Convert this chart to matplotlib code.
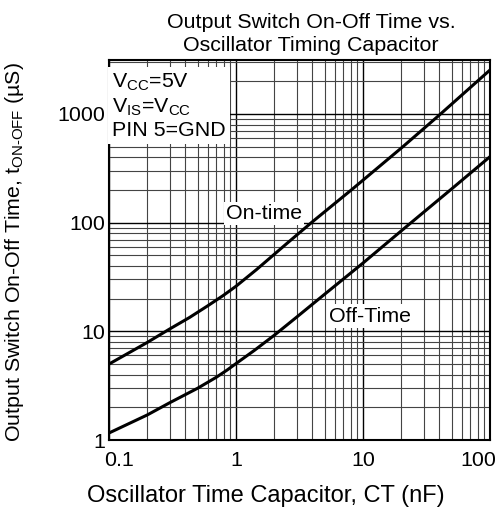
"""Output switch on/off time vs. oscillator timing capacitor (log-log)."""

import matplotlib

matplotlib.use("Agg")
import matplotlib.pyplot as plt
from matplotlib.ticker import FixedLocator, FixedFormatter, LogLocator, NullFormatter
from matplotlib.transforms import ScaledTranslation

plt.rcParams["font.family"] = ["Liberation Sans", "DejaVu Sans"]
plt.rcParams["mathtext.fontset"] = "custom"
plt.rcParams["mathtext.rm"] = "Liberation Sans"
plt.rcParams["mathtext.it"] = "Liberation Sans"

# capacitor CT (nF) vs. time (us)
ct_on = [0.1, 0.2, 0.3, 0.43, 0.6, 0.79, 1.0, 1.45, 2.5, 4.0, 8.3, 20.6, 40.0, 100.0]
t_on = [5.0, 7.9, 10.5, 13.4, 17.2, 21.3, 26.0, 37.0, 64.0, 102.0, 205.0, 500.0, 980.0, 2540.0]

ct_off = [0.1, 0.2, 0.3, 0.5, 0.7, 0.85, 1.0, 1.4, 2.0, 3.0, 5.0, 10.0, 20.0, 50.0, 100.0]
t_off = [1.16, 1.7, 2.2, 3.0, 3.78, 4.4, 5.05, 6.7, 9.2, 13.5, 22.0, 42.5, 84.0, 205.0, 405.0]

x_ticks = [0.1, 1, 10, 100]
x_labels = ["0.1", "1", "10", "100"]
y_ticks = [1, 10, 100, 1000]
y_labels = ["1", "10", "100", "1000"]

X_RANGE = (0.1, 100)
Y_RANGE = (1, 3140)

FS = 15.4


def main() -> None:
    fig = plt.figure(figsize=(5.0, 5.19), dpi=100)
    ax = fig.add_axes([0.218, 0.1522, 0.762, 0.7322])

    ax.set_xscale("log")
    ax.set_yscale("log")
    ax.set_xlim(*X_RANGE)
    ax.set_ylim(*Y_RANGE)

    ax.plot(ct_on, t_on, color="black", lw=2.2, zorder=4, solid_joinstyle="round")
    ax.plot(ct_off, t_off, color="black", lw=2.2, zorder=4, solid_joinstyle="round")

    ax.xaxis.set_major_locator(FixedLocator(x_ticks))
    ax.xaxis.set_major_formatter(FixedFormatter(x_labels))
    ax.yaxis.set_major_locator(FixedLocator(y_ticks))
    ax.yaxis.set_major_formatter(FixedFormatter(y_labels))
    for axis in (ax.xaxis, ax.yaxis):
        axis.set_minor_locator(LogLocator(base=10, subs=range(2, 10)))
        axis.set_minor_formatter(NullFormatter())

    ax.grid(True, which="major", color="black", lw=1.0)
    ax.grid(True, which="minor", color="#444444", lw=0.8)
    ax.set_axisbelow(True)
    ax.tick_params(which="both", length=0, labelsize=FS)
    ax.tick_params(axis="x", pad=8)
    ax.tick_params(axis="y", pad=3)
    for sp in ax.spines.values():
        sp.set_linewidth(1.5)

    # end labels of the x axis sit a little inside the frame
    xl = ax.get_xticklabels()
    xl[0].set_transform(xl[0].get_transform() + ScaledTranslation(0.10, 0, fig.dpi_scale_trans))
    xl[-1].set_transform(xl[-1].get_transform() + ScaledTranslation(-0.12, 0, fig.dpi_scale_trans))

    white = dict(facecolor="white", edgecolor="none", pad=1.5)
    ax.text(
        0.008, 0.968,
        "V$_{\\mathregular{CC}}$=5V\n"
        "V$_{\\mathregular{IS}}$=V$_{\\mathregular{CC}}$\n"
        "PIN 5=GND",
        transform=ax.transAxes, ha="left", va="top", fontsize=FS,
        linespacing=1.2, bbox=dict(facecolor="white", edgecolor="none", pad=3),
        zorder=5,
    )
    ax.text(1.67, 122, "On-time", ha="center", va="center", fontsize=FS,
            bbox=white, zorder=5)
    ax.text(11.3, 13.8, "Off-Time", ha="center", va="center", fontsize=FS,
            bbox=white, zorder=5)

    fig.text(0.622, 0.934, "Output Switch On-Off Time vs.\nOscillator Timing Capacitor",
             ha="center", va="center", fontsize=FS, linespacing=1.25)
    fig.text(0.532, 0.044, "Oscillator Time Capacitor, CT (nF)",
             ha="center", va="center", fontsize=17)
    fig.text(0.03, 0.515,
             "Output Switch On-Off Time, t$_{\\text{ON-OFF}}$ (\u00b5S)",
             ha="center", va="center", rotation=90, fontsize=FS)

    fig.savefig("out.png", dpi=100)


if __name__ == "__main__":
    main()
